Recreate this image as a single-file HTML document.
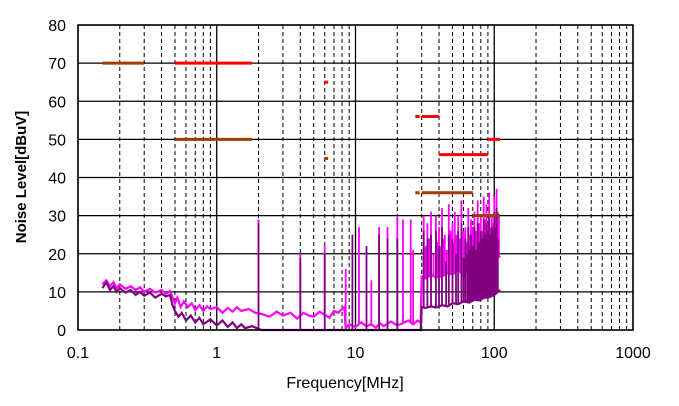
<!DOCTYPE html>
<html><head><meta charset="utf-8"><style>
body{margin:0;background:#fff;}
svg text{font-family:"Liberation Sans",sans-serif;}
</style></head><body>
<svg id="chart" width="679" height="401" viewBox="0 0 679 401" xmlns="http://www.w3.org/2000/svg">
<g id="grid"></g>
<g id="series"></g>
<g id="limits"></g>
<rect x="78" y="25" width="555" height="305" fill="none" stroke="#000" stroke-width="1.5"/>
<g id="ticks"></g>
<text x="345" y="388" font-size="16" text-anchor="middle">Frequency[MHz]</text>
<text transform="translate(26,177) rotate(-90)" font-size="15" font-weight="bold" text-anchor="middle">Noise Level[dBuV]</text>
</svg>
<script>
const xTicks=[0.1,1,10,100,1000];
const xTickLabels=["0.1","1","10","100","1000"];
const yTicks=[0,10,20,30,40,50,60,70,80];
const limitStart=[0.15,0.5,0.5,5.95,5.95,27,30,40,90,27,30,70];
const limitEnd=[0.3,1.8,1.8,6.35,6.35,29,40,90,110,29,70,110];
const limitLevel=[70,70,50,65,45,56,56,46,50,36,36,30];
const limitColor=["#a03c00","#ff0000","#a03c00","#ff0000","#a03c00","#ff0000","#ff0000","#ff0000","#ff0000","#a03c00","#a03c00","#a03c00"];
const magF=[0.15,0.16,0.17,0.18,0.19,0.2,0.22,0.24,0.26,0.28,0.3,0.33,0.36,0.4,0.43,0.46,0.5,0.52,0.55,0.58,0.62,0.66,0.7,0.75,0.8,0.85,0.9,1,1.1,1.2,1.3,1.4,1.5,1.7,1.9,2.1,2.4,2.7,3,3.4,3.8,4.2,4.6,5,5.5,6,6.5,7,7.5,8,8.3,8.5,9,10,11,12,13,14,15,16,18,20,22,24,26,28,29.5,30,32,35,38,42,46,50,55,60,66,72,78,85,92,100,106,110];
const magV=[12,13,11.5,12.5,11,12,10.8,11.5,10.5,11.2,10,10.8,9.8,10.5,9.5,10.2,7,8.5,6,7.5,6,7,5.2,6.5,5,6.2,5.5,6,4.5,5.8,4.8,6,5,5.5,4.5,4.2,3.5,4.8,3.8,4.5,3,4.5,3.8,3.5,4.8,4,3.2,5,4.5,5.5,6,0.5,1.5,0.8,2,1,1.5,0.6,1.8,1,2.2,1.2,1.8,2.5,1.5,2.5,2,14,13.5,14.5,13.8,14,15,14.5,16,14,17,15,18,16,19,18,20,19];
const magSpikeF=[2.0,4.0,6.0,8.5,10.6,13,14.8,17,20,22,25,26,31,32,33,34,35,36.5,38,39,40,41,42,43,44,45.5,47,48.5,50,51,52,53.5,55,56.5,58,60,62,63.5,65,66.5,68,70,72,74,76,78,80,82,84,86,88,90,92,94,96,98,100,102,104,106,108];
const magSpikeV=[29,20,22,16,27,13,27,27,30,29,29,21,30,22,28,24,31,20,30,23,27,22,32,24,25,21,33,26,28,23,31,25,30,24,34,26,27,23,32,25,29,27,31,26,34,28,30,26,35,29,33,28,36,27,30,28,35,30,37,31,30];
const purF=[0.15,0.16,0.17,0.18,0.19,0.2,0.22,0.24,0.26,0.28,0.3,0.33,0.36,0.4,0.43,0.46,0.48,0.5,0.53,0.56,0.6,0.65,0.7,0.75,0.8,0.9,1,1.1,1.2,1.3,1.4,1.5,1.6,1.8,2.0,2.1,29.5,30,32,35,38,42,46,50,55,60,66,72,78,85,92,100,106,110];
const purV=[11,12.5,10.5,11.5,10,11,9.8,10.5,9.2,10,9,9.8,8.5,9.5,8.8,9.2,6.5,5,3.5,4.5,2.5,3.8,2,3.2,1.5,2.8,1.2,2.5,0.8,2,0.5,1.5,0.5,1,0.3,0,0,6,5.8,6.2,5.9,6.5,6.2,7,6.8,7.5,7.2,8,7.8,8.5,8.6,9.2,10,10.5];
const purSpikeF=[2.0,4.0,6.0,9.5,12,14.8,17,20,31,33,35,38,40,42,45,47,50,53,55,58,60,62,64,65,67,68,70,72,74,76,78,80,82,84,86,88,90,92,94,96,98,100,102,104,106];
const purSpikeV=[28,19,20,25,22,25,24,24,26,24,25,26,22,27,18,25,24,20,26,28,19,24,20,27,21,25,22,27,21,28,23,26,24,29,25,28,26,30,25,27,26,31,27,32,24];

const X0=78,X1=633,Y0=330,Y1=25;
const xs=f=>X0+(Math.log10(f)+1)/4*(X1-X0);
const ys=v=>Y0-v/80*(Y0-Y1);
const NS="http://www.w3.org/2000/svg";
function mk(tag,parent,attrs){const e=document.createElementNS(NS,tag);for(const k in attrs)e.setAttribute(k,attrs[k]);parent.appendChild(e);return e;}
const grid=document.getElementById('grid');
for(let e=-1;e<3;e++){for(let m=2;m<10;m++){const x=xs(m*Math.pow(10,e));
const l=mk('line',grid,{x1:x,x2:x,y1:Y1,y2:Y0,stroke:'#000','stroke-width':1,'stroke-dasharray':'4,3'});

}}
xTicks.forEach(f=>{const x=xs(f);const l=mk('line',grid,{x1:x,x2:x,y1:Y1,y2:Y0,stroke:'#000','stroke-width':1.3});

});
yTicks.forEach(v=>{const y=ys(v);const l=mk('line',grid,{x1:X0,x2:X1,y1:y,y2:y,stroke:'#000','stroke-width':1.3});

});
const ticks=document.getElementById('ticks');
xTicks.forEach((f,i)=>{const t=mk('text',ticks,{x:xs(f),y:358,'font-size':16,'text-anchor':'middle'});t.textContent=xTickLabels[i];

});
yTicks.forEach(v=>{const t=mk('text',ticks,{x:66,y:ys(v)+6,'font-size':16,'text-anchor':'end'});t.textContent=String(v);

});
function interp(F,V,f){if(f<=F[0])return V[0];for(let i=1;i<F.length;i++){if(f<=F[i]){const t=(Math.log(f)-Math.log(F[i-1]))/(Math.log(F[i])-Math.log(F[i-1]));return V[i-1]+t*(V[i]-V[i-1]);}}return V[V.length-1];}
const series=document.getElementById('series');
function drawSeries(F,V,SF,SV,color,name){
 let d=F.map((f,i)=>(i?'L':'M')+xs(f).toFixed(1)+','+ys(Math.max(0,V[i])).toFixed(1)).join('');
 const p=mk('path',series,{d:d,fill:'none',stroke:color,'stroke-width':2.2});
 
 
 let sd='';SF.forEach((f,i)=>{const x=xs(f).toFixed(1);sd+='M'+x+','+ys(interp(F,V,f)).toFixed(1)+'L'+x+','+ys(SV[i]).toFixed(1);});
 const s=mk('path',series,{d:sd,fill:'none',stroke:color,'stroke-width':1.8});
 
 
}
drawSeries(magF,magV,magSpikeF,magSpikeV,'#ff00ff','magenta-series');
drawSeries(purF,purV,purSpikeF,purSpikeV,'#800080','purple-series');
const limits=document.getElementById('limits');
limitStart.forEach((f,i)=>{const l=mk('line',limits,{x1:xs(f),x2:xs(limitEnd[i]),y1:ys(limitLevel[i]),y2:ys(limitLevel[i]),stroke:limitColor[i],'stroke-width':3});

});
</script>
</body></html>
